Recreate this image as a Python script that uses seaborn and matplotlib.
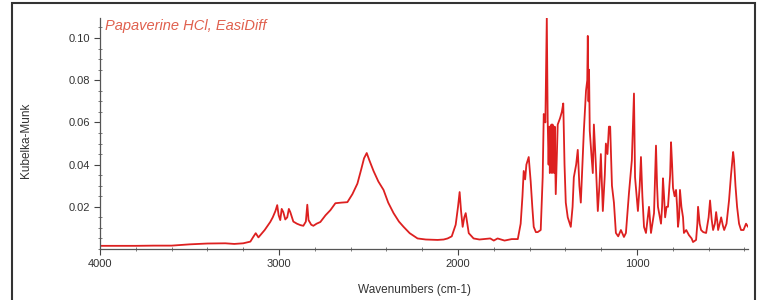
import matplotlib
matplotlib.use("Agg")
import matplotlib.pyplot as plt
import seaborn as sns
import pandas as pd
from matplotlib.patches import Rectangle
from matplotlib.ticker import MultipleLocator

# --- data (wavenumber, Kubelka-Munk) ---
wavenumbers = [
    4000, 3900, 3800, 3700, 3600, 3500, 3400, 3300, 3250, 3200, 3160, 3144, 3130, 3115, 3105,
    3080, 3060, 3049, 3035, 3020, 3010, 3002, 2993, 2985, 2976, 2965, 2954, 2945, 2937, 2920,
    2900, 2880, 2864, 2850, 2842, 2835, 2820, 2808, 2790, 2769, 2740, 2713, 2685, 2650, 2618,
    2590, 2562, 2540, 2525, 2510, 2495, 2472, 2445, 2416, 2390, 2360, 2330, 2304, 2270, 2226,
    2180, 2114, 2080, 2058, 2035, 2013, 2000, 1991, 1983, 1974, 1965, 1957, 1948, 1940, 1913,
    1880, 1857, 1820, 1800, 1779, 1740, 1700, 1666, 1650, 1640, 1633, 1625, 1618, 1605, 1594,
    1585, 1577, 1565, 1555, 1538, 1527, 1521, 1512, 1504, 1499, 1494, 1490, 1487, 1484, 1481,
    1478, 1475, 1472, 1469, 1466, 1463, 1460, 1454, 1448, 1443, 1430, 1420, 1412, 1405, 1398,
    1387, 1370, 1360, 1353, 1340, 1331, 1322, 1314, 1305, 1297, 1285, 1278, 1275, 1271, 1268,
    1264, 1255, 1247, 1241, 1230, 1219, 1210, 1202, 1196, 1191, 1180, 1174, 1165, 1157, 1150,
    1140, 1129, 1118, 1105, 1090, 1073, 1062, 1045, 1029, 1017, 1011, 995, 985, 978, 970,
    961, 950, 933, 922, 905, 894, 888, 883, 866, 860, 855, 849, 843, 835, 827,
    815, 810, 804, 799, 790, 782, 776, 771, 765, 760, 752, 743, 738, 725, 710,
    695, 687, 670, 663, 659, 650, 642, 630, 614, 600, 592, 583, 575, 565, 558,
    550, 547, 538, 530, 520, 513, 500, 486, 475, 463, 458, 450, 441, 430, 419,
    405, 391, 380, 374,
]
kubelka_munk = [
    0.0015, 0.0015, 0.0015, 0.0016, 0.0016, 0.0022, 0.0026, 0.0027, 0.0024, 0.0027, 0.0035, 0.0057, 0.0075, 0.0055, 0.0065,
    0.0090, 0.0115, 0.0128, 0.0150, 0.0180, 0.0208, 0.0160, 0.0137, 0.0190, 0.0175, 0.0140, 0.0150, 0.0190, 0.0175, 0.0130,
    0.0120, 0.0113, 0.0110, 0.0130, 0.0210, 0.0137, 0.0115, 0.0110, 0.0120, 0.0128, 0.0160, 0.0184, 0.0217, 0.0220, 0.0222,
    0.0260, 0.0310, 0.0380, 0.0430, 0.0455, 0.0420, 0.0370, 0.0320, 0.0280, 0.0220, 0.0170, 0.0130, 0.0105, 0.0075, 0.0050,
    0.0045, 0.0043, 0.0045, 0.0050, 0.0060, 0.0115, 0.0200, 0.0270, 0.0180, 0.0105, 0.0150, 0.0170, 0.0120, 0.0075, 0.0050,
    0.0045, 0.0047, 0.0050, 0.0040, 0.0050, 0.0040, 0.0047, 0.0047, 0.0120, 0.0250, 0.0370, 0.0330, 0.0400, 0.0436, 0.0320,
    0.0200, 0.0105, 0.0080, 0.0080, 0.0090, 0.0340, 0.0640, 0.0600, 0.1097, 0.0610, 0.0400, 0.0580, 0.0360, 0.0580, 0.0370,
    0.0590, 0.0360, 0.0590, 0.0370, 0.0580, 0.0360, 0.0580, 0.0260, 0.0450, 0.0590, 0.0620, 0.0650, 0.0690, 0.0400, 0.0220,
    0.0150, 0.0105, 0.0200, 0.0340, 0.0400, 0.0470, 0.0300, 0.0220, 0.0400, 0.0560, 0.0750, 0.0800, 0.1010, 0.0700, 0.0850,
    0.0560, 0.0450, 0.0360, 0.0590, 0.0400, 0.0180, 0.0300, 0.0450, 0.0300, 0.0180, 0.0350, 0.0500, 0.0450, 0.0580, 0.0580,
    0.0300, 0.0220, 0.0076, 0.0060, 0.0090, 0.0057, 0.0076, 0.0265, 0.0420, 0.0737, 0.0340, 0.0180, 0.0300, 0.0436, 0.0250,
    0.0105, 0.0076, 0.0200, 0.0076, 0.0170, 0.0490, 0.0300, 0.0200, 0.0120, 0.0200, 0.0335, 0.0250, 0.0150, 0.0200, 0.0200,
    0.0350, 0.0506, 0.0400, 0.0290, 0.0250, 0.0280, 0.0200, 0.0105, 0.0150, 0.0280, 0.0200, 0.0150, 0.0076, 0.0090, 0.0066,
    0.0050, 0.0033, 0.0043, 0.0120, 0.0200, 0.0120, 0.0090, 0.0080, 0.0076, 0.0150, 0.0230, 0.0140, 0.0090, 0.0120, 0.0175,
    0.0120, 0.0090, 0.0120, 0.0150, 0.0110, 0.0090, 0.0120, 0.0230, 0.0350, 0.0460, 0.0420, 0.0300, 0.0200, 0.0120, 0.0090,
    0.0090, 0.0120, 0.0105, 0.0110,
]
x_ticks = [4000, 3000, 2000, 1000]
x_tick_labels = ["4000", "3000", "2000", "1000"]
y_ticks = [0.02, 0.04, 0.06, 0.08, 0.10]
y_tick_labels = ["0.02", "0.04", "0.06", "0.08", "0.10"]
title_text = "Papaverine HCl, EasiDiff"
x_label = "Wavenumbers (cm-1)"
y_label = "Kubelka-Munk"

df = pd.DataFrame({"wn": wavenumbers, "km": kubelka_munk})

sns.set_theme(style="ticks")
plt.rcParams["font.family"] = ["Liberation Sans", "DejaVu Sans"]

fig = plt.figure(figsize=(7.6, 3.0), dpi=100)
fig.patch.set_facecolor("white")
ax = fig.add_axes([100 / 760, 1 - 249 / 300, 648 / 760, 231 / 300])

sns.lineplot(data=df, x="wn", y="km", ax=ax, color="#dd2020", linewidth=1.3,
             sort=False, estimator=None)

ax.set_xlim(4000, 380)
ax.set_ylim(0, 0.1095)
ax.set_xticks(x_ticks)
ax.set_xticklabels(x_tick_labels)
ax.set_yticks(y_ticks)
ax.set_yticklabels(y_tick_labels)
ax.xaxis.set_minor_locator(MultipleLocator(200))
ax.yaxis.set_minor_locator(MultipleLocator(0.005))
ax.tick_params(axis="both", which="major", direction="out", length=4, width=0.8,
               colors="#444444", labelsize=8, labelcolor="#333333", pad=3)
ax.tick_params(axis="both", which="minor", direction="inout", length=3, width=0.6,
               colors="#666666")
for s in ["top", "right"]:
    ax.spines[s].set_visible(False)
for s in ["left", "bottom"]:
    ax.spines[s].set_color("#555555")
    ax.spines[s].set_linewidth(0.9)

ax.set_xlabel(x_label, fontsize=8.5, color="#333333", labelpad=6)
ax.set_ylabel(y_label, fontsize=8.5, color="#333333", labelpad=0)
ax.yaxis.set_label_coords(-0.105, 0.47)
ax.xaxis.set_label_coords(0.485, -0.15)

ax.text(0.008, 0.965, title_text, transform=ax.transAxes, fontsize=10.5,
        style="italic", color="#e0604e", ha="left", va="center")

fig.patches.append(Rectangle((12 / 760, -10 / 300), 743 / 760, 307 / 300,
                             transform=fig.transFigure, fill=False,
                             edgecolor="#333333", linewidth=1.5))

fig.savefig("out.png", dpi=100, facecolor="white")
